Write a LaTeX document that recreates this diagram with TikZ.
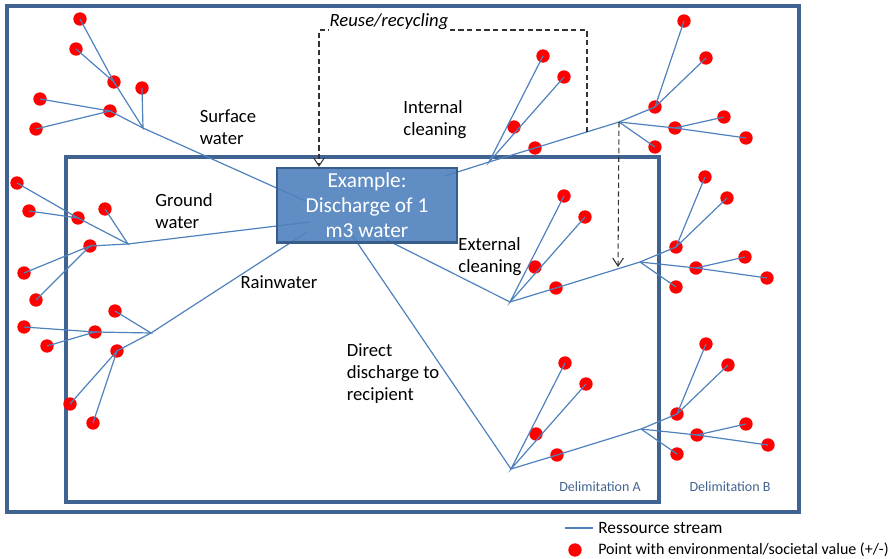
\documentclass[tikz,border=0pt]{standalone}
\usepackage{fontspec}
\setmainfont{Carlito}
\usepackage{xcolor}
\usepackage{tikz}
\usetikzlibrary{arrows.meta}
\definecolor{frameblue}{RGB}{65,99,145}
\definecolor{streamblue}{RGB}{79,129,189}
\definecolor{boxblue}{RGB}{79,129,189}
\definecolor{boxline}{RGB}{56,93,138}

\begin{document}
\begin{tikzpicture}[
  x=0.75pt, y=-0.75pt,
  frame/.style={draw=frameblue, line width=2.4pt},
  dot/.style={circle, fill=red, inner sep=0pt, minimum size=10pt},
  stream/.style={draw=streamblue, line width=0.9pt},
  reuse/.style={draw=black!80, line width=0.8pt, dash pattern=on 4pt off 2.5pt},
  lbl/.style={font=\fontsize{14}{16.5}\selectfont, align=left, inner sep=0pt},
  delim/.style={font=\fontsize{10.5}{12}\selectfont, text=frameblue, inner sep=0pt},
  >={Straight Barb[length=6pt,width=8pt]}
]
  \useasboundingbox (0,0) rectangle (892,559);

  % Delimitations
  \draw[frame] (7,6) rectangle (799,512);
  \draw[frame] (66,157) rectangle (659,502);
  \node[delim] (dela) at (600,487) {Delimitation A};
  \node[delim] (delb) at (730,487) {Delimitation B};

  % Where the streams enter the example
  \coordinate (s-in) at (310,203);
  \coordinate (g-in) at (310,222);
  \coordinate (r-in) at (307,232);
  \coordinate (d-in) at (350,232);
  \coordinate (e-in) at (367,230);
  \coordinate (i-in) at (445,176);

  % Surface water
  \coordinate (sj) at (143,128);
  \node[dot] (sa) at (114,82) {};
  \node[dot] (sb) at (142,88) {};
  \node[dot] (sc) at (110,111) {};
  \node[dot] (sa1) at (80,19) {};
  \node[dot] (sa2) at (76,49) {};
  \node[dot] (sc1) at (40,99) {};
  \node[dot] (sc2) at (36,129) {};
  \draw[stream] (sa1.center) -- (sa.center) -- (sa2.center);
  \draw[stream] (sc1.center) -- (sc.center) -- (sc2.center);
  \draw[stream] (sa.center) -- (sj) -- (sb.center);
  \draw[stream] (sc.center) -- (sj) -- (s-in);

  % Ground water
  \coordinate (gj) at (128,244);
  \node[dot] (ga) at (78,218) {};
  \node[dot] (gb) at (105,209) {};
  \node[dot] (gc) at (90,246) {};
  \node[dot] (ga1) at (17,183) {};
  \node[dot] (ga2) at (29,211) {};
  \node[dot] (gc1) at (24,273) {};
  \node[dot] (gc2) at (36,300) {};
  \draw[stream] (ga1.center) -- (ga.center) -- (ga2.center);
  \draw[stream] (gc1.center) -- (gc.center) -- (gc2.center);
  \draw[stream] (ga.center) -- (gj) -- (gb.center);
  \draw[stream] (gc.center) -- (gj) -- (g-in);

  % Rainwater
  \coordinate (rj) at (151,333);
  \node[dot] (ra) at (115,311) {};
  \node[dot] (rb) at (95,332) {};
  \node[dot] (rc) at (117,351) {};
  \node[dot] (rb1) at (24,327) {};
  \node[dot] (rb2) at (47,346) {};
  \node[dot] (rc1) at (70,404) {};
  \node[dot] (rc2) at (93,423) {};
  \draw[stream] (rb1.center) -- (rb.center) -- (rb2.center);
  \draw[stream] (rc1.center) -- (rc.center) -- (rc2.center);
  \draw[stream] (ra.center) -- (rj) -- (rb.center);
  \draw[stream] (rc.center) -- (rj) -- (r-in);

  % Internal cleaning, external cleaning, direct discharge
  \foreach \t/\jx/\jy/\h in {i/489/162/141, e/510/302/125, d/511/469/125}{
    \begin{scope}[shift={(\jx,\jy)}]
      \coordinate (\t-j) at (0,0);
      \coordinate (\t-k) at (130,-40);
      \foreach \n/\dx/\dy in {p1/54/-106, p2/75/-85, p3/25/-35, p4/46/-14,
          q1/166/-55, q2/195/-\h, q3/217/-104, q4/186/-34,
          q5/235/-45, q6/257/-24, q7/166/-15}
        \node[dot] (\t-\n) at (\dx,\dy) {};
      \draw[stream] (\t-p1.center) -- (\t-j) -- (\t-p2.center);
      \draw[stream] (\t-j) -- (\t-p4.center) -- (\t-k) -- (\t-q1.center) -- (\t-q2.center);
      \draw[stream] (\t-q1.center) -- (\t-q3.center);
      \draw[stream] (\t-k) -- (\t-q4.center) -- (\t-q6.center);
      \draw[stream] (\t-q4.center) -- (\t-q5.center);
      \draw[stream] (\t-k) -- (\t-q7.center);
    \end{scope}
  }
  \draw[stream] (i-in) -- (i-j);
  \draw[stream] (e-in) -- (e-j);
  \draw[stream] (d-in) -- (d-j);

  % Example
  \node[draw=boxline, line width=2pt, fill=boxblue, fill opacity=0.9, text opacity=1,
        text=white, minimum width=135pt, minimum height=56pt, align=center,
        font=\fontsize{16}{18.8}\selectfont] (ex) at (367,205.5)
        {Example:\\Discharge of 1\\m3 water};

  % Reuse/recycling
  \coordinate (rs) at (587,132);
  \coordinate (rr) at (587,30);
  \coordinate (rt) at (319,30);
  \coordinate (ca) at (618,267);
  \draw[reuse, ->] (rs) -- (rr) -- (rt) -- (rt |- ex.north);
  \draw[reuse, ->] (i-k) -- (ca);
  \node[fill=white, inner sep=0.5pt, font=\fontsize{14}{16}\selectfont\itshape]
        (reuselbl) at (389,22) {Reuse/recycling};

  % Labels
  \node[lbl] (surf) at (228,127) {Surface\\water};
  \node[lbl] (grnd) at (184,211) {Ground\\water};
  \node[lbl] (rain) at (279,282) {Rainwater};
  \node[lbl] (intc) at (435,120) {Internal\\cleaning};
  \node[lbl] (extc) at (490,257) {External\\cleaning};
  \node[lbl] (dirc) at (393,374) {Direct\\discharge to\\recipient};

  % Legend
  \coordinate (leg1) at (565,528);
  \coordinate (leg2) at (593,528);
  \draw[stream] (leg1) -- (leg2);
  \node[anchor=west, inner sep=0pt, font=\fontsize{13}{15}\selectfont] (legs) at (598,528) {Ressource stream};
  \node[dot] (legd) at (575,550) {};
  \node[anchor=west, inner sep=0pt, font=\fontsize{12}{14}\selectfont] (legp) at (598,550)
        {Point with environmental/societal value (+/-)};
\end{tikzpicture}
\end{document}
